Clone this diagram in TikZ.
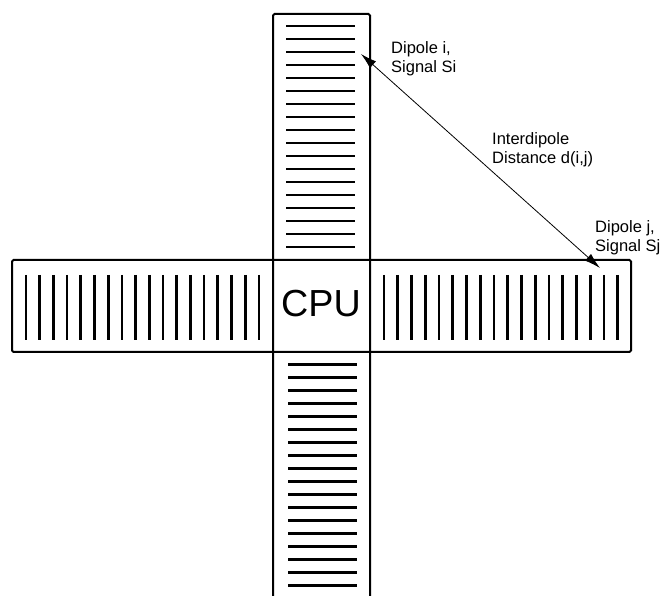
\documentclass[tikz,border=0pt]{standalone}
\usepackage{fontspec}
\setmainfont{Liberation Sans}
\usetikzlibrary{arrows.meta}

\begin{document}
\begin{tikzpicture}[x=1pt,y=-1pt,
    bar/.style={draw, line width=2pt, rounded corners=1.5pt},
    dipole/.style={line width=2.7pt},
    lbl/.style={align=left, anchor=west, inner sep=0pt, font=\fontsize{16.5}{19}\selectfont},
    arr/.style={{Latex[length=16pt,width=9pt]}-{Latex[length=16pt,width=9pt]}, line width=0.8pt},
  ]
  \useasboundingbox (0,0) rectangle (662,596);
  % the two arms of the cross
  \draw[bar] (12,260) rectangle (631,352);
  \draw[bar] (273,596) -- (273,14) -- (370,14) -- (370,596);
  % dipoles on each arm
  \foreach \k in {0,...,17} {
    \draw[dipole] ({26+13.7*\k},275) -- ++(0,65);
    \draw[dipole] ({384+13.75*\k},275) -- ++(0,65);
    \draw[dipole] (286,{26+13*\k}) -- ++(69,0);
    \draw[dipole] (288,{364.3+13.03*\k}) -- ++(69,0);
  }
  \node[font=\fontsize{37.7}{40}\selectfont, inner sep=0pt] (cpu) at (321,304) {CPU};
  \coordinate (dipi) at (361,54);
  \coordinate (dipj) at (600,268);
  \node[lbl] (labi) at (391,59) {Dipole i,\\Signal Si};
  \node[lbl] (dist) at (492,150) {Interdipole\\Distance d(i,j)};
  \node[lbl] (labj) at (595,238) {Dipole j,\\Signal Sj};
  \draw[arr] (dipi) -- (dipj);
\end{tikzpicture}
\end{document}
